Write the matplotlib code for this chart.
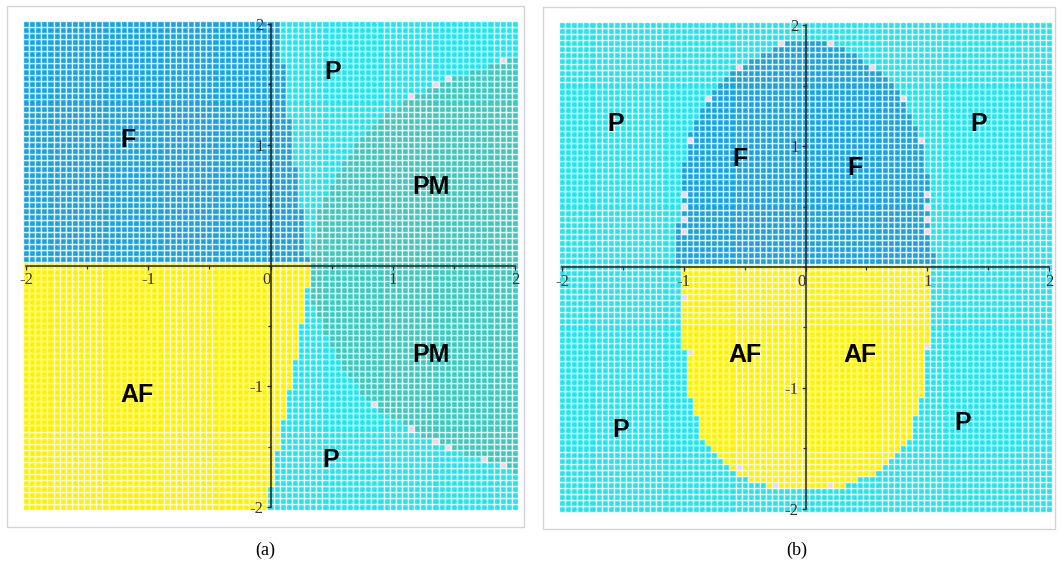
import numpy as np
import matplotlib
matplotlib.use('Agg')
import matplotlib.pyplot as plt
from matplotlib.colors import ListedColormap
from matplotlib.patches import Rectangle
from matplotlib.ticker import FixedLocator, MultipleLocator

# ---------------- data ----------------
grid_step = 0.05
grid_min, grid_max = -2.0, 2.0

phase_names = ['P', 'F', 'PM', 'AF', 'edge']
phase_colors = ['#20e6f0', '#18a4e4', '#3ccabf', '#fff200', '#eed6e6']

# panel (a): phase boundaries
a_F_y = [0.0, 0.5, 1.0, 1.5, 2.0]
a_F_x = [0.31, 0.25, 0.17, 0.12, 0.06]
a_AF_y = [-2.0, -1.72, -1.42, -1.17, -0.87, -0.57, -0.27, 0.0]
a_AF_x = [-0.03, 0.015, 0.07, 0.13, 0.18, 0.24, 0.28, 0.33]
a_PMu_y = [0.0, 0.45, 0.88, 1.17, 1.40, 1.54, 1.70, 1.74]
a_PMu_x = [0.31, 0.40, 0.59, 0.84, 1.14, 1.45, 1.90, 2.05]
a_PMl_y = [-1.72, -1.66, -1.51, -1.35, -1.17, -0.84, -0.49, -0.30, 0.0]
a_PMl_x = [2.05, 1.90, 1.45, 1.14, 0.84, 0.59, 0.42, 0.33, 0.33]
a_edge_x = [1.15, 1.35, 1.45, 1.90, 0.85, 1.15, 1.35, 1.45, 1.75, 1.90]
a_edge_y = [1.40, 1.50, 1.55, 1.70, -1.15, -1.35, -1.45, -1.50, -1.60, -1.65]
a_labels = ['F', 'P', 'PM', 'PM', 'AF', 'P']
a_lab_x = [-1.17, 0.51, 1.31, 1.31, -1.09, 0.49]
a_lab_y = [1.04, 1.60, 0.65, -0.74, -1.07, -1.61]

# panel (b)
b_F_y = [0.0, 0.71, 1.07, 1.38, 1.66, 1.84]
b_F_xl = [-1.07, -1.03, -0.97, -0.82, -0.57, -0.22]
b_F_xr = [1.06, 1.01, 0.96, 0.81, 0.57, 0.24]
b_F_top = 1.85
b_AF_y = [-1.81, -1.69, -1.41, -0.99, -0.68, 0.0]
b_AF_xl = [-0.32, -0.60, -0.85, -0.97, -1.00, -1.03]
b_AF_xr = [0.29, 0.60, 0.85, 0.97, 1.00, 1.01]
b_AF_bottom = -1.83
b_edge_x = [-1.0, -1.0, -1.0, -1.0, 1.0, 1.0, 1.0, 1.0, -0.2, 0.2, -0.55, 0.55,
            -0.8, 0.8, -0.95, 0.95, -1.0, -0.95, 1.0, -0.25, 0.2, -0.55]
b_edge_y = [0.3, 0.4, 0.5, 0.6, 0.3, 0.4, 0.5, 0.6, 1.85, 1.85, 1.65, 1.65,
            1.4, 1.4, 1.05, 1.05, -0.25, -0.7, -0.65, -1.8, -1.8, -1.65]
b_labels = ['P', 'F', 'F', 'P', 'AF', 'AF', 'P', 'P']
b_lab_x = [-1.56, -0.54, 0.41, 1.42, -0.50, 0.45, -1.52, 1.29]
b_lab_y = [1.18, 0.89, 0.82, 1.18, -0.73, -0.73, -1.35, -1.29]

captions = ['(a)', '(b)']

# ---------------- build cell maps ----------------
xc = np.round(np.arange(grid_min, grid_max + grid_step / 2, grid_step), 3)
X, Y = np.meshgrid(xc, xc)
edges = np.concatenate([xc - grid_step / 2, [xc[-1] + grid_step / 2]])


def set_edges(Z, ex, ey):
    for x, y in zip(ex, ey):
        i = int(round((y - grid_min) / grid_step))
        j = int(round((x - grid_min) / grid_step))
        Z[i, j] = 4


Za = np.zeros_like(X, dtype=int)
up = Y > 0
Za[up & (X >= np.interp(Y, a_PMu_y, a_PMu_x))] = 2
Za[up & (X < np.interp(Y, a_F_y, a_F_x))] = 1
Za[~up & (X >= np.interp(Y, a_PMl_y, a_PMl_x))] = 2
Za[~up & (X < np.interp(Y, a_AF_y, a_AF_x))] = 3
set_edges(Za, a_edge_x, a_edge_y)

Zb = np.zeros_like(X, dtype=int)
fmask = up & (Y <= b_F_top) & (X >= np.interp(Y, b_F_y, b_F_xl) - 1e-6) & \
    (X <= np.interp(Y, b_F_y, b_F_xr) + 1e-6)
amask = (~up) & (Y >= b_AF_bottom) & (X >= np.interp(Y, b_AF_y, b_AF_xl) - 1e-6) & \
    (X <= np.interp(Y, b_AF_y, b_AF_xr) + 1e-6)
Zb[fmask] = 1
Zb[amask] = 3
set_edges(Zb, b_edge_x, b_edge_y)

# ---------------- figure ----------------
W, H = 1061, 564
fig = plt.figure(figsize=(W / 100, H / 100), dpi=100)
fig.patch.set_facecolor('white')
cmap = ListedColormap(phase_colors)

panels = [
    dict(Z=Za, rect=(23, 21, 518, 510), frame=(7, 6, 524, 527),
         labels=a_labels, lx=a_lab_x, ly=a_lab_y, cap_x=265),
    dict(Z=Zb, rect=(559, 22, 1052, 512), frame=(543, 7, 1055, 529),
         labels=b_labels, lx=b_lab_x, ly=b_lab_y, cap_x=797),
]

serif = ['Liberation Serif', 'DejaVu Serif']

for k, p in enumerate(panels):
    x0, y0, x1, y1 = p['rect']
    ax = fig.add_axes([x0 / W, 1 - y1 / H, (x1 - x0) / W, (y1 - y0) / H])
    ax.pcolormesh(edges, edges, p['Z'], cmap=cmap, vmin=-0.5, vmax=4.5,
                  edgecolors=(1, 1, 1, 0.8), linewidth=0.95, antialiased=True,
                  snap=True)
    ax.set_xlim(edges[0], edges[-1])
    ax.set_ylim(edges[0], edges[-1])
    ax.set_facecolor('none')
    for s in ['top', 'right']:
        ax.spines[s].set_visible(False)
    ax.spines['left'].set_position(('data', 0))
    ax.spines['bottom'].set_position(('data', 0))
    ax.spines['left'].set_bounds(-2, 2)
    ax.spines['bottom'].set_bounds(-2, 2)
    for s in ['left', 'bottom']:
        ax.spines[s].set_linewidth(1.1)
        ax.spines[s].set_color('#222222')
        ax.spines[s].set_zorder(2.5)
    ax.xaxis.set_major_locator(FixedLocator([-2, -1, 0, 1, 2]))
    ax.yaxis.set_major_locator(FixedLocator([-2, -1, 1, 2]))
    ax.xaxis.set_minor_locator(MultipleLocator(0.5))
    ax.yaxis.set_minor_locator(MultipleLocator(0.5))
    ax.set_xticklabels(['-2', '-1', '0', '1', '2'])
    ax.set_yticklabels(['-2', '-1', '1', '2'])
    ax.tick_params(which='major', direction='out', length=3, width=0.9,
                   color='#222222', labelsize=12, labelcolor='#333333', pad=2)
    ax.tick_params(which='minor', direction='out', length=2, width=0.8, color='#222222')
    for lab in ax.get_xticklabels() + ax.get_yticklabels():
        lab.set_fontfamily(serif)
    for lab in ax.get_xticklabels():
        if lab.get_text() == '0':
            lab.set_horizontalalignment('right')
    for t, x, y in zip(p['labels'], p['lx'], p['ly']):
        ax.text(x, y, t, ha='center', va='center', fontsize=18,
                fontweight='bold', family=['Liberation Sans', 'DejaVu Sans'],
                color='black', zorder=4)
    fx0, fy0, fx1, fy1 = p['frame']
    fig.add_artist(Rectangle((fx0 / W, 1 - fy1 / H), (fx1 - fx0) / W, (fy1 - fy0) / H,
                             transform=fig.transFigure, fill=False,
                             edgecolor='#d4d4d4', linewidth=1.0))
    fig.text(p['cap_x'] / W, 1 - 550 / H, captions[k], ha='center', va='center',
             fontsize=13, family=serif, color='black')

fig.savefig('out.png', dpi=100, facecolor='white')
